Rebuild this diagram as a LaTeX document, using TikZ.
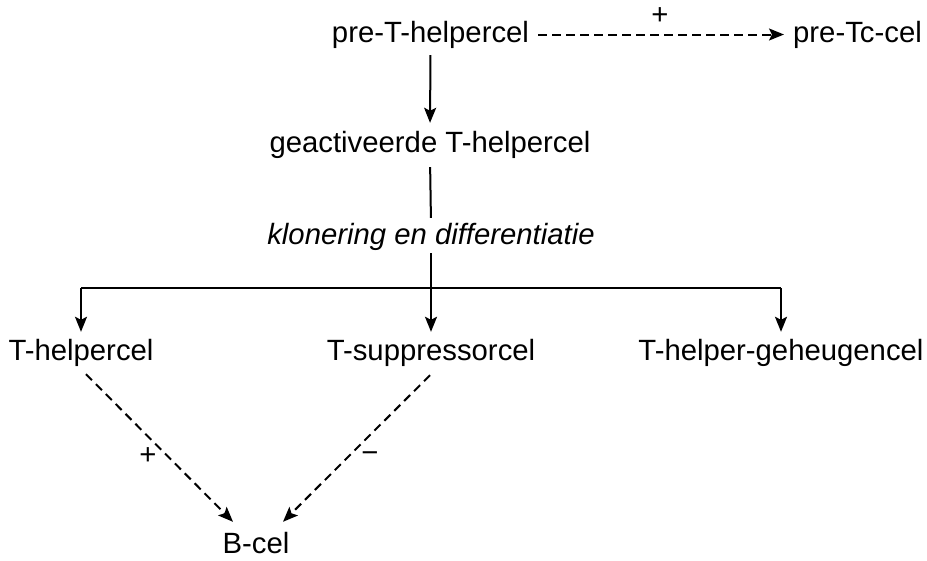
\documentclass[tikz,border=0pt]{standalone}
\usepackage{fontspec}
\setmainfont{Liberation Sans}
\usetikzlibrary{arrows.meta,calc}
\begin{document}
\begin{tikzpicture}[x=1pt,y=-1pt,
  lbl/.style={font=\fontsize{29.3}{35}\selectfont, inner sep=0pt, text height=21pt, text depth=6pt, anchor=base},
  sgn/.style={font=\fontsize{29.3}{35}\selectfont, inner sep=0pt, anchor=center},
  ln/.style={line width=2pt},
  arr/.style={ln, -{Stealth[length=15pt,width=12pt,inset=3pt]}},
  darr/.style={arr, dash pattern=on 8.5pt off 5.5pt}]
\useasboundingbox (0,0) rectangle (927,560);
\node[lbl] (pre)  at (430.5,42) {pre-T-helpercel};
\node[lbl] (prec) at (857.5,42) {pre-Tc-cel};
\node[lbl] (act)  at (430,152) {geactiveerde T-helpercel};
\node[lbl] (klon) at (431,244) {\itshape klonering en differentiatie};
\node[lbl] (th)   at (81,360) {T-helpercel};
\node[lbl] (ts)   at (431,360) {T-suppressorcel};
\node[lbl] (thg)  at (781,360) {T-helper-geheugencel};
\node[lbl] (b)    at (256,553) {B-cel};
\node[sgn] (p1) at (660,16) {+};
\node[sgn] (p2) at (148,456) {+};
\node[sgn] (m1) at (370,457) {−};
\coordinate (j) at (430,288);
\coordinate (jl) at (th |- j);
\coordinate (jr) at (thg |- j);
\draw[darr, shorten <=9pt, shorten >=9pt] (pre.east) -- (prec.west);
\draw[arr, shorten <=7pt, shorten >=8pt] (pre.south) -- (act.north);
\draw[ln, shorten <=9pt, shorten >=5pt] (act.south) -- (klon.north);
\draw[arr, shorten <=3pt, shorten >=7pt] (klon.south) -- (ts.north);
\draw[ln] (jl) -- (jr);
\draw[arr, shorten >=7pt] (jl) -- (th.north);
\draw[arr, shorten >=7pt] (jr) -- (thg.north);
\draw[darr] ($(th.south)+(5,8)$) -- ($(b.north)+(-23,-10)$);
\draw[darr] ($(ts.south)+(-1,9)$) -- ($(b.north)+(27,-10)$);
\end{tikzpicture}
\end{document}
